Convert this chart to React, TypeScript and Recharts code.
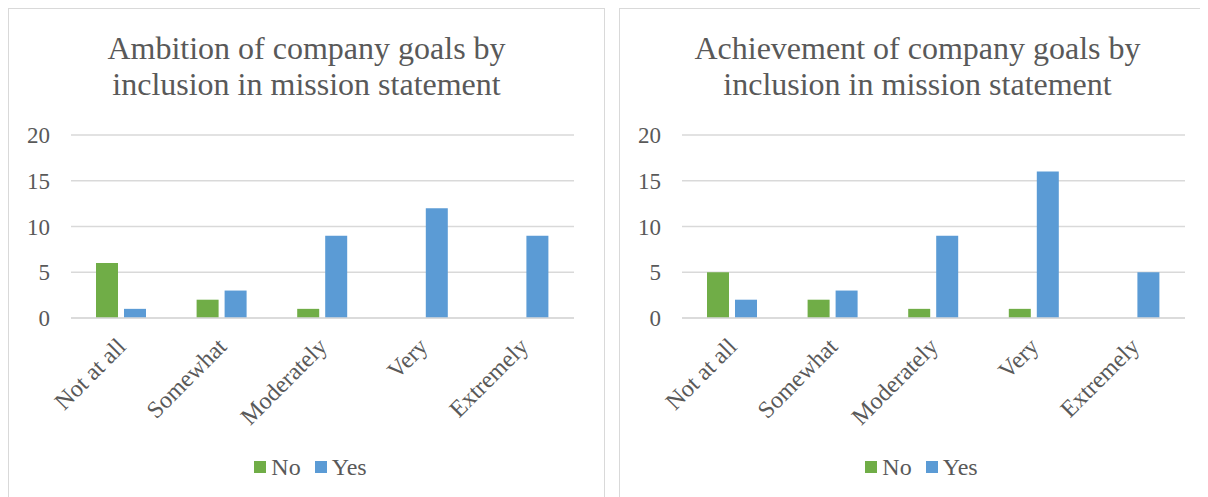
import React from 'react';
import { BarChart, Bar, XAxis, YAxis, CartesianGrid, Legend } from 'recharts';

const categories = ['Not at all', 'Somewhat', 'Moderately', 'Very', 'Extremely'];
const ambitionNo = [6, 2, 1, 0, 0];
const ambitionYes = [1, 3, 9, 12, 9];
const achievementNo = [5, 2, 1, 1, 0];
const achievementYes = [2, 3, 9, 16, 5];
const yTicks = [0, 5, 10, 15, 20];

const GREEN = '#70AD47';
const BLUE = '#5B9BD5';
const TEXT = '#595959';
const GRID = '#d9d9d9';
const FONT = '"Liberation Serif", "Times New Roman", serif';

const buildRows = (no: number[], yes: number[]) =>
  categories.map((name, i) => ({ name, No: no[i], Yes: yes[i] }));

const XTick = (props: any) => {
  const { x, y, payload } = props;
  const ax = x + 6;
  const ay = y + 30;
  return (
    <text
      x={ax}
      y={ay}
      transform={`rotate(-45, ${ax}, ${ay})`}
      textAnchor="end"
      fill={TEXT}
      fontSize={24}
      fontFamily={FONT}
    >
      {payload.value}
    </text>
  );
};

const LegendBox = (props: any) => {
  const items = props.payload || [];
  return (
    <div style={{ display: 'flex', justifyContent: 'center', alignItems: 'center', fontFamily: FONT, fontSize: 24, lineHeight: '24px', color: TEXT }}>
      {items.map((it: any, i: number) => (
        <div key={it.value} style={{ display: 'flex', alignItems: 'center', marginLeft: i === 0 ? 0 : 14 }}>
          <span style={{ display: 'inline-block', width: 12, height: 12, background: it.color, marginRight: 5 }} />
          <span>{it.value}</span>
        </div>
      ))}
    </div>
  );
};

const Panel = ({ left, title, no, yes }: { left: number; title: string[]; no: number[]; yes: number[] }) => {
  const data = buildRows(no, yes);
  return (
    <div
      style={{
        position: 'absolute',
        left,
        top: 8,
        width: 597,
        height: 520,
        border: `1px solid ${GRID}`,
        boxSizing: 'border-box',
        background: '#fff',
      }}
    >
      <div
        style={{
          position: 'absolute',
          top: 21,
          left: 0,
          width: 595,
          textAlign: 'center',
          fontFamily: FONT,
          fontSize: 32,
          lineHeight: '36px',
          color: TEXT,
        }}
      >
        {title.map((t) => (
          <div key={t}>{t}</div>
        ))}
      </div>
      <BarChart
        width={595}
        height={518}
        data={data}
        margin={{ top: 126, right: 30, left: 0, bottom: 48 }}
        barSize={22}
        barGap={6}
      >
        <CartesianGrid horizontal vertical={false} stroke={GRID} strokeWidth={1.3} />
        <XAxis
          dataKey="name"
          height={137}
          tickLine={false}
          tickSize={0}
          tickMargin={0}
          axisLine={{ stroke: GRID, strokeWidth: 1.3 }}
          tick={<XTick />}
          interval={0}
        />
        <YAxis
          width={62}
          domain={[0, 20]}
          ticks={yTicks}
          axisLine={false}
          tickLine={false}
          tickSize={0}
          tickMargin={21}
          tick={{ fill: TEXT, fontSize: 23, fontFamily: FONT }}
        />
        <Legend
          verticalAlign="bottom"
          content={<LegendBox />}
          wrapperStyle={{ left: 0, width: 595, paddingLeft: 8, boxSizing: 'border-box' }}
        />
        <Bar dataKey="No" fill={GREEN} isAnimationActive={false} />
        <Bar dataKey="Yes" fill={BLUE} isAnimationActive={false} />
      </BarChart>
    </div>
  );
};

export default function App() {
  return (
    <div
      style={{
        position: 'relative',
        margin: '-8px 0 0 -8px',
        width: 1208,
        height: 497,
        overflow: 'hidden',
        background: '#fff',
      }}
    >
      <Panel
        left={8}
        title={['Ambition of company goals by', 'inclusion in mission statement']}
        no={ambitionNo}
        yes={ambitionYes}
      />
      <Panel
        left={619}
        title={['Achievement of company goals by', 'inclusion in mission statement']}
        no={achievementNo}
        yes={achievementYes}
      />
    </div>
  );
}
